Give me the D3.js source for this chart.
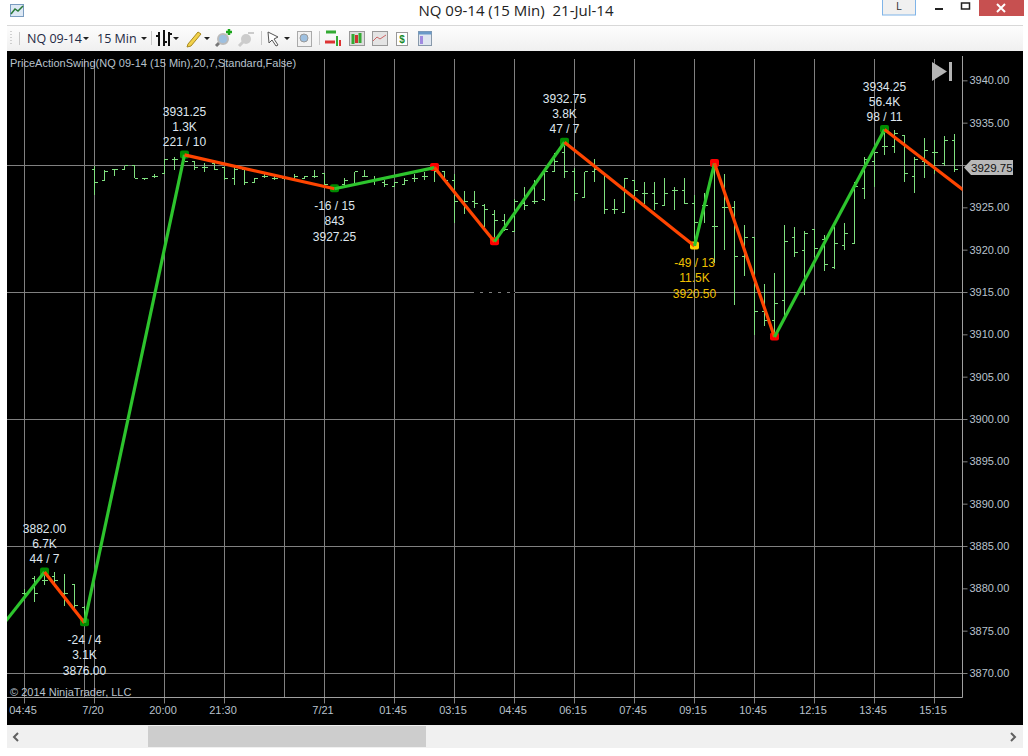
<!DOCTYPE html>
<html><head><meta charset="utf-8">
<script src="https://cdn.jsdelivr.net/npm/d3@7"></script>
<style>
html,body{margin:0;padding:0;background:#fff;overflow:hidden}
svg{display:block}
text{font-family:"Liberation Sans",Arial,sans-serif;white-space:pre}
</style></head><body><svg id="c" width="1028" height="756"></svg>
<script>
// OHLC bars, one row per 15-minute bar: [high, low, open, close]
const bars = [
[3880,3878.75,3879.5,3879.5],[3881.5,3878.5,3881.25,3879.5],[3882,3880.5,3881,3881],[3882,3880.25,3881.5,3881],
[3881.75,3878,3879.5,3879.5],[3880.5,3877.75,3880.5,3878],[3878,3876,3877.75,3876],
[3930,3926.5,3929.5,3928],[3929.5,3928.25,3928.25,3929.25],[3929.5,3928.75,3929.5,3929.5],[3930,3929.5,3929.5,3930],
[3930,3928.5,3930,3928.5],[3928.5,3928.25,3928.5,3928.5],[3929,3928.5,3928.75,3928.75],[3930.75,3929,3929,3930.75],
[3931,3929.5,3930.75,3930.75],[3931.25,3930.5,3930.75,3930.5],[3930.5,3929.5,3930.5,3929.75],[3930.25,3929.25,3929.75,3929.75],
[3930.25,3929.5,3930.25,3929.5],[3929.75,3928.25,3929.75,3928.5],[3930,3927.75,3928.5,3929.5],[3929.5,3927.75,3929.5,3928],
[3928.5,3928,3928,3928.5],[3929,3928.5,3928.75,3928.75],[3928.75,3928.25,3928.5,3928.5],[3928.75,3928.25,3928.5,3928.5],
[3929,3928.5,3928.5,3928.75],[3928.75,3928.5,3928.5,3928.75],[3929.5,3928.5,3928.75,3928.75],[3929,3927.75,3929,3927.75],
[3927.75,3927,3927.5,3927.25],[3928.5,3927.5,3927.75,3928.25],[3929.25,3927.75,3927.75,3929.25],[3929.5,3928.75,3928.75,3928.75],
[3928.75,3927.75,3928.25,3928.25],[3928.25,3927.5,3928,3927.75],[3928,3927.5,3927.5,3928],[3928.5,3927.75,3927.75,3928.25],
[3929,3928,3928.5,3928.5],[3929.25,3928.25,3928.75,3928.75],[3930.25,3928,3929.5,3929.25],[3929.25,3928.25,3929.25,3928.25],
[3929,3923.25,3928.25,3925.75],[3927,3924.25,3925.75,3925.75],[3927,3925,3925.75,3925.5],[3925.5,3922.75,3925.25,3924.75],
[3924.75,3921.25,3924.25,3923.5],[3924.25,3922.25,3923.5,3922.5],[3926,3922.25,3922.25,3925.75],[3927.5,3924.75,3925.5,3925.25],
[3928.25,3925.5,3925.75,3925.75],[3929.25,3925.75,3926,3929.25],[3931.5,3929.25,3929.25,3930.5],[3932.75,3928.5,3931.5,3929.25],
[3929.75,3925.75,3929.25,3926.75],[3929.25,3926.25,3926.25,3929.25],[3930.75,3928,3929.25,3929.5],[3929,3924.25,3929,3924.75],
[3926,3924.25,3924.75,3924.75],[3928.5,3924.5,3924.5,3928.5],[3928.25,3924.75,3928.25,3927],[3928,3925.5,3926.75,3926.75],
[3928,3924.75,3926.75,3925.5],[3928.5,3925.25,3925.25,3926.75],[3927.5,3924.75,3927,3927],[3928.5,3925.5,3927,3925.5],
[3926.5,3920.5,3925.5,3923.25],[3926.75,3923.25,3925.25,3925.25],[3930.25,3918.5,3922.75,3922.75],[3929,3920,3925,3925],
[3925.75,3913.5,3925,3919.25],[3923,3917,3919.25,3921.5],[3921.5,3910,3921.5,3912.75],[3916,3911,3912.75,3911.75],
[3917.25,3909.75,3911.75,3913.75],[3923,3912,3914,3921],[3922.75,3919.25,3921.5,3919.75],[3922.25,3914.75,3920,3922],
[3922.5,3919.25,3922.5,3920.25],[3921.75,3917.5,3921.25,3918.25],[3922.75,3917.75,3918,3920.75],[3923.25,3920,3920.5,3922],
[3928,3920.75,3920.75,3927.5],[3931,3926,3927.25,3930.75],[3931.5,3927.5,3930.5,3931.5],[3934.25,3931.25,3932.25,3932.25],
[3934.25,3931.5,3932.25,3933.75],[3933.5,3928,3933.5,3929],[3931,3926.75,3928.75,3930.75],[3933.25,3928.5,3930.5,3931.75],
[3933,3929,3931.5,3931.5],[3933.5,3930,3930.25,3933],[3933.75,3929.25,3933,3929.5]
];
// Swing line vertices: bar index and price
const swingIndex = [-2,2,6,16,31,41,47,54,67,69,75,86,94];
const swingPrice = [3876,3882,3876,3931.25,3927.25,3929.75,3921,3932.75,3920.5,3930.25,3909.75,3934.25,3927];
const markerColor = [null,"#008a00","#008a00","#008a00","#008a00","#ff0000","#ff0000","#008a00","#ffd000","#ff0000","#ff0000","#008a00",null];
// Swing labels: anchor vertex, side and lines
const labelVertex = [1,2,3,4,7,8,11];
const labelSide = ["up","down","up","down","up","down","up"];
const labelColor = ["#dfe6ee","#dfe6ee","#dfe6ee","#dfe6ee","#dfe6ee","#f0c000","#dfe6ee"];
const labelLines = [["3882.00","6.7K","44 / 7"],["-24 / 4","3.1K","3876.00"],["3931.25","1.3K","221 / 10"],["-16 / 15","843","3927.25"],["3932.75","3.8K","47 / 7"],["-49 / 13","11.5K","3920.50"],["3934.25","56.4K","98 / 11"]];
// Axes
const priceTicks = d3.range(3870,3941,5);
const priceGrid = [3870,3885,3900,3915,3930];
const timeTickIndex = [0,7,14,20,30,37,43,49,55,61,67,73,79,85,91];
const timeTickLabels = ["04:45","7/20","20:00","21:30","7/21","01:45","03:15","04:45","06:15","07:45","09:15","10:45","12:15","13:45","15:15"];
const extraGridIndex = [6,26];
const lastPrice = 3929.75;

const svg = d3.select("#c");
const P = {l:7,r:962.5,t:52,b:697.5};
const x = d3.scaleLinear().domain([0,93]).range([24.5,954.5]);
const y = d3.scaleLinear().domain([3870,3930]).range([673.5,165.5]);

// window chrome
svg.append("rect").attr("width",1028).attr("height",756).attr("fill","#ffffff");
const defs = svg.append("defs");
const g0 = defs.append("linearGradient").attr("id","tb").attr("x1",0).attr("y1",0).attr("x2",0).attr("y2",1);
g0.append("stop").attr("offset",0).attr("stop-color","#fdfdfd");
g0.append("stop").attr("offset",1).attr("stop-color","#efefef");
defs.append("clipPath").attr("id","plot").append("rect").attr("x",P.l).attr("y",P.t).attr("width",P.r-P.l).attr("height",P.b-P.t);
svg.append("rect").attr("x",7).attr("y",26).attr("width",1016).attr("height",26).attr("fill","url(#tb)");
svg.append("line").attr("x1",7).attr("x2",1023).attr("y1",25.5).attr("y2",25.5).attr("stroke","#d8d8d8");
svg.append("rect").attr("x",7).attr("y",51).attr("width",1016).attr("height",674).attr("fill","#000");
svg.append("rect").attr("x",7).attr("y",725).attr("width",1016).attr("height",23).attr("fill","#f0f0f0");
svg.append("rect").attr("x",148).attr("y",726).attr("width",278).attr("height",21).attr("fill","#cdcdcd");
svg.append("path").attr("d","M18 733l-4 4 4 4M1011 733l4 4-4 4").attr("fill","none").attr("stroke","#606060").attr("stroke-width",2);
svg.append("text").attr("x",516).attr("y",16).attr("text-anchor","middle").attr("font-size",15).style("font-family","'Open Sans',sans-serif").attr("fill","#222").text("NQ 09-14 (15 Min)  21-Jul-14");
svg.append("rect").attr("x",882.5).attr("y",-1).attr("width",33).attr("height",16).attr("fill","#f0f0f0").attr("stroke","#7fb4e8");
svg.append("text").attr("x",899).attr("y",10).attr("text-anchor","middle").attr("font-size",10).attr("fill","#333").text("L");
svg.append("rect").attr("x",979).attr("y",0).attr("width",45).attr("height",16).attr("fill","#c75050");
svg.append("path").attr("d","M997 4l8 8M1005 4l-8 8").attr("stroke","#fff").attr("stroke-width",2);
svg.append("rect").attr("x",935).attr("y",8).attr("width",8).attr("height",2).attr("fill","#222");
svg.append("rect").attr("x",961.5).attr("y",3).attr("width",8).attr("height",6).attr("fill","none").attr("stroke","#222").attr("stroke-width",1.5);
// app icon
svg.append("rect").attr("x",10.5).attr("y",4.5).attr("width",13).attr("height",12).attr("fill","#dde8f4").attr("stroke","#7a9cc0");
svg.append("path").attr("d","M11 14l4-5 3 2 5-5").attr("fill","none").attr("stroke","#2a7a3a").attr("stroke-width",1.5);
// toolbar
svg.append("text").attr("x",27).attr("y",43).attr("font-size",12.5).style("font-family","'Open Sans',sans-serif").attr("fill","#1f2a44").text("NQ 09-14");
svg.append("text").attr("x",97).attr("y",43).attr("font-size",12.5).style("font-family","'Open Sans',sans-serif").attr("fill","#1f2a44").text("15 Min");
svg.append("path").attr("d","M83 37h6l-3 3zM141 37h6l-3 3zM173 37h6l-3 3zM204 37h6l-3 3zM284 37h6l-3 3z").attr("fill","#222");
svg.append("path").attr("d","M11 31v13").attr("stroke","#aaa").attr("stroke-dasharray","1 2");
svg.append("path").attr("d","M19.5 32v13M151.5 31v14M261.5 31v14M319.5 31v14").attr("stroke","#c8c8c8");
svg.append("path").attr("d","M159 32v14M164 30v16M169 32v14M156 36h3M164 42h3M169 34h3").attr("stroke","#111").attr("stroke-width",2);
svg.append("path").attr("d","M188 44l10-12 3 2-10 12-4 1z").attr("fill","#f2d14a").attr("stroke","#a88a20");
svg.append("path").attr("d","M216 46l4-4").attr("stroke","#777").attr("stroke-width",3);
svg.append("circle").attr("cx",223).attr("cy",39).attr("r",5).attr("fill","#9ec0e0").attr("stroke","#bbb").attr("stroke-width",2);
svg.append("path").attr("d","M226 32h6M229 29v6").attr("stroke","#1aa51a").attr("stroke-width",2.5);
svg.append("path").attr("d","M239 46l4-4").attr("stroke","#ccc").attr("stroke-width",3);
svg.append("circle").attr("cx",246).attr("cy",39).attr("r",5).attr("fill","#ccc");
svg.append("path").attr("d","M248 33h6").attr("stroke","#ccc").attr("stroke-width",2);
svg.append("path").attr("d","M268 32l10 5-4 2 4 6-2 1-4-6-3 3z").attr("fill","#fff").attr("stroke","#555");
svg.append("rect").attr("x",297.5).attr("y",31.5).attr("width",14).attr("height",15).attr("fill","#f2f2f2").attr("stroke","#aaa");
svg.append("circle").attr("cx",304).attr("cy",38).attr("r",4).attr("fill","#9ec0e0").attr("stroke","#999");
svg.append("path").attr("d","M325 42h10").attr("stroke","#d33").attr("stroke-width",3);
svg.append("path").attr("d","M326 32h10").attr("stroke","#3a3").attr("stroke-width",3);
svg.append("path").attr("d","M337 36v10").attr("stroke","#3a3").attr("stroke-width",2);
svg.append("path").attr("d","M340 40v6").attr("stroke","#d33").attr("stroke-width",2);
svg.append("rect").attr("x",349.5).attr("y",31.5).attr("width",15).attr("height",14).attr("fill","#ddd").attr("stroke","#999");
svg.append("path").attr("d","M353 34v10M360 33v10").attr("stroke","#3a3").attr("stroke-width",3);
svg.append("path").attr("d","M356.5 35v8").attr("stroke","#c33").attr("stroke-width",3);
svg.append("rect").attr("x",372.5).attr("y",31.5).attr("width",15).attr("height",14).attr("fill","#e4e4e4").attr("stroke","#999");
svg.append("path").attr("d","M373 41l4-4 3 2 6-4").attr("fill","none").attr("stroke","#c66");
svg.append("rect").attr("x",396.5).attr("y",32.5).attr("width",11).attr("height",13).attr("fill","#fff").attr("stroke","#999");
svg.append("text").attr("x",402).attr("y",43).attr("text-anchor","middle").attr("font-size",10).attr("font-weight","bold").attr("fill","#1a8a2a").text("$");
svg.append("rect").attr("x",418.5).attr("y",31.5).attr("width",13).attr("height",14).attr("fill","#dfe6f0").attr("stroke","#89a");
svg.append("rect").attr("x",420).attr("y",36).attr("width",3).attr("height",8).attr("fill","#a08ae0");
svg.append("rect").attr("x",418.5).attr("y",31.5).attr("width",13).attr("height",3).attr("fill","#6a9ac8");

// axes and grid, drawn with D3 axes
const gridCol = "#808080", labCol="#b9c2cc";
const yAxis = d3.axisRight(y).offset(0).tickValues(priceTicks).tickFormat(d3.format(".2f")).tickSize(5).tickPadding(2);
const yg = svg.append("g").attr("transform",`translate(${P.r},0)`).call(yAxis);
yg.select(".domain").remove();
yg.selectAll("line").attr("stroke",gridCol);
yg.selectAll("text").attr("fill",labCol).attr("font-size",11);
yg.selectAll(".tick").filter(d=>d===3930).select("text").text("");
const yGrid = d3.axisLeft(y).offset(0).tickValues(priceGrid).tickSize(P.r-P.l).tickFormat("");
const yGg = svg.append("g").attr("transform",`translate(${P.r},0)`).call(yGrid);
yGg.select(".domain").remove();
yGg.selectAll("line").attr("stroke",gridCol);

const xAxis = d3.axisBottom(x).offset(0).tickValues(timeTickIndex).tickFormat((d,i)=>timeTickLabels[i]).tickSize(6).tickPadding(3);
const xg = svg.append("g").attr("transform",`translate(0,${P.b})`).call(xAxis);
xg.select(".domain").remove();
xg.selectAll("line").attr("stroke",gridCol);
xg.selectAll("text").attr("fill",labCol).attr("font-size",11).attr("dx",-1.5);
const xGrid = d3.axisTop(x).offset(0).tickValues(timeTickIndex.concat(extraGridIndex)).tickSize(P.b-59).tickFormat("");
const xGg = svg.append("g").attr("transform",`translate(0,${P.b})`).call(xGrid);
xGg.select(".domain").remove();
xGg.selectAll("line").attr("stroke",gridCol);
svg.append("path").attr("d",`M${P.r} 56V${P.b}H${P.l}`).attr("fill","none").attr("stroke","#a0a0a0");
svg.append("line").attr("x1",474).attr("x2",515).attr("y1",292.5).attr("y2",292.5).attr("stroke","#000").attr("stroke-dasharray","6 3");

// OHLC bars
const barCol="#7fe07f";
const gb = svg.append("g").attr("clip-path","url(#plot)").attr("stroke",barCol).attr("fill","none").attr("shape-rendering","crispEdges");
const bg = gb.selectAll("g").data(bars).join("g").attr("transform",(d,i)=>`translate(${x(i)},0)`);
bg.append("line").attr("y1",d=>y(d[0])).attr("y2",d=>y(d[1]));
bg.append("line").attr("x1",-3).attr("x2",0).attr("y1",d=>y(d[2])).attr("y2",d=>y(d[2]));
bg.append("line").attr("x1",0).attr("x2",3).attr("y1",d=>y(d[3])).attr("y2",d=>y(d[3]));

// swing lines
const pts = swingIndex.map((d,i)=>({i:d,p:swingPrice[i],c:markerColor[i]}));
const segs = d3.pairs(pts);
const gs = svg.append("g").attr("clip-path","url(#plot)");
gs.selectAll("rect").data(pts.filter(d=>d.c)).join("rect")
  .attr("x",d=>x(d.i)-4.5).attr("y",d=>y(d.p)-4.5).attr("width",9).attr("height",8).attr("rx",2).attr("fill",d=>d.c);
gs.selectAll("line").data(segs).join("line")
  .attr("x1",d=>x(d[0].i)).attr("y1",d=>y(d[0].p)).attr("x2",d=>x(d[1].i)).attr("y2",d=>y(d[1].p))
  .attr("stroke",d=>d[1].p>d[0].p?"#2dc42d":"#ff4500").attr("stroke-width",3.2);

// swing labels
labelVertex.forEach((v,k)=>{
  const px=x(swingIndex[v]), py=y(swingPrice[v]);
  labelLines[k].forEach((t,j)=>{
    const dy = labelSide[k]==="up" ? -39+j*15 : 21+j*15.5;
    svg.append("text").attr("x",px).attr("y",py+dy).attr("text-anchor","middle").attr("font-size",12).attr("fill",labelColor[k]).text(t);
  });
});

// captions
svg.append("text").attr("x",10).attr("y",67).attr("font-size",11).attr("fill",labCol).text("PriceActionSwing(NQ 09-14 (15 Min),20,7,Standard,False)");
svg.append("text").attr("x",10).attr("y",696).attr("font-size",11).attr("fill",labCol).text("\u00a9 2014 NinjaTrader, LLC");
svg.append("path").attr("d","M932 62l15 9.5-15 9.5z").attr("fill","#b4b4b4");
svg.append("rect").attr("x",949).attr("y",62).attr("width",3).attr("height",19).attr("fill","#b4b4b4");

// last price marker
const ly=y(lastPrice);
svg.append("path").attr("d",`M964 ${ly}l7-7.5h42v15h-42z`).attr("fill","#b8b8b8");
svg.append("text").attr("x",971).attr("y",ly+4).attr("font-size",11.5).attr("fill","#111").text(d3.format(".2f")(lastPrice));
</script></body></html>
